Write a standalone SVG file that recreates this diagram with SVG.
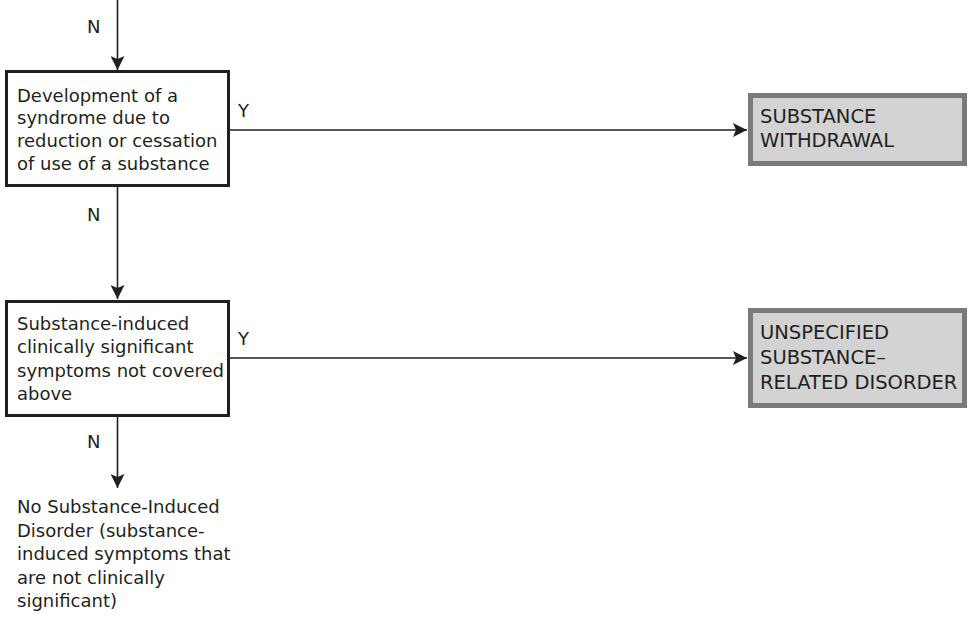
<svg xmlns="http://www.w3.org/2000/svg" width="968" height="618" viewBox="0 0 968 618">
  <defs>
    <marker id="arrow" viewBox="0 0 14 14" refX="14" refY="7" markerWidth="14" markerHeight="14" markerUnits="userSpaceOnUse" orient="auto">
      <path d="M0,0 L14,7 L0,14 L3,7 Z" fill="#231f20"/>
    </marker>
    <style>
      text { font-family: "DejaVu Sans", "Liberation Sans", sans-serif; font-size: 18px; fill: #231f20; }
      .outcome-label { font-size: 19.5px; }
      .decision { fill: #ffffff; stroke: #231f20; stroke-width: 3; }
      .outcome { fill: #d3d3d3; stroke: #7a7a7a; stroke-width: 5; }
      .edge { fill: none; stroke: #231f20; stroke-width: 1.6; marker-end: url(#arrow); }
    </style>
  </defs>

  <rect width="968" height="618" fill="#ffffff"/>

  <!-- connectors -->
  <g id="connectors">
    <path class="edge" d="M117.5,0 V70"/>
    <path class="edge" d="M229,130 H747"/>
    <path class="edge" d="M117.5,187 V299"/>
    <path class="edge" d="M229,358 H747"/>
    <path class="edge" d="M117.5,417 V488"/>
    <text x="87" y="33">N</text>
    <text x="238" y="117">Y</text>
    <text x="87" y="221">N</text>
    <text x="238" y="345">Y</text>
    <text x="87" y="448">N</text>
  </g>

  <!-- decision: withdrawal -->
  <g id="withdrawal-check">
    <rect class="decision" x="6.5" y="71.5" width="222" height="114"/>
    <text x="17" y="101.5">Development of a</text>
    <text x="17" y="124.3">syndrome due to</text>
    <text x="17" y="147.1">reduction or cessation</text>
    <text x="17" y="169.9">of use of a substance</text>
  </g>

  <!-- outcome: withdrawal -->
  <g id="substance-withdrawal" class="outcome-label">
    <rect class="outcome" x="750.5" y="95.5" width="214" height="68"/>
    <text class="outcome-label" x="760" y="123">SUBSTANCE</text>
    <text class="outcome-label" x="760" y="147">WITHDRAWAL</text>
  </g>

  <!-- decision: other symptoms -->
  <g id="other-symptoms-check">
    <rect class="decision" x="6.5" y="301.5" width="222" height="114"/>
    <text x="17" y="330">Substance-induced</text>
    <text x="17" y="353.3">clinically significant</text>
    <text x="17" y="376.6">symptoms not covered</text>
    <text x="17" y="399.9">above</text>
  </g>

  <!-- outcome: unspecified -->
  <g id="unspecified-disorder">
    <rect class="outcome" x="750.5" y="310.5" width="214" height="95"/>
    <text class="outcome-label" x="760" y="339">UNSPECIFIED</text>
    <text class="outcome-label" x="760" y="364">SUBSTANCE–</text>
    <text class="outcome-label" x="760" y="389">RELATED DISORDER</text>
  </g>

  <!-- terminal: no disorder -->
  <g id="no-disorder">
    <text x="17" y="513">No Substance-Induced</text>
    <text x="17" y="536.5">Disorder (substance-</text>
    <text x="17" y="560">induced symptoms that</text>
    <text x="17" y="583.5">are not clinically</text>
    <text x="17" y="607">significant)</text>
  </g>
</svg>
